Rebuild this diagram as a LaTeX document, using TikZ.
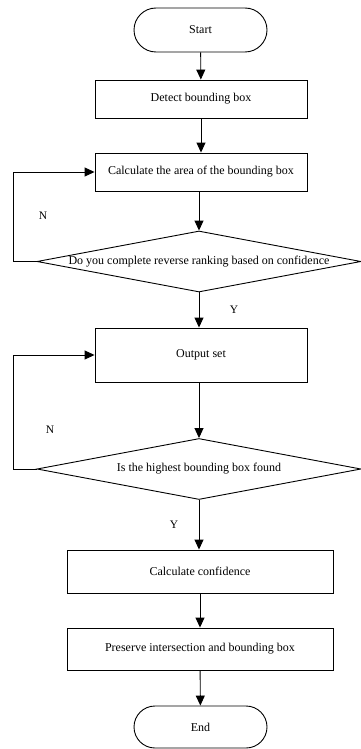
\documentclass[tikz,border=0pt]{standalone}
\usepackage{fontspec}
\setmainfont{Liberation Serif}
\usetikzlibrary{shapes.geometric,shapes.misc,arrows.meta}
\begin{document}
\begin{tikzpicture}[x=1pt,y=-1pt,
  every node/.style={font=\fontsize{12}{14}\selectfont},
  term/.style={draw,line width=0.9pt,rounded rectangle,minimum width=133pt,minimum height=44pt,inner sep=0pt},
  procbox/.style={draw,line width=0.9pt,rectangle,inner sep=0pt},
  decision/.style={draw,line width=0.9pt,diamond,aspect=5.3,minimum width=324pt,minimum height=61pt,inner sep=0pt},
  conn/.style={line width=0.9pt,-{Triangle[width=9pt,length=10pt]}},
  lbl/.style={font=\fontsize{11.5}{13}\selectfont}]
\useasboundingbox (0,0) rectangle (360,749);
\node[term] (start) at (200.5,30) {Start};
\node[procbox,minimum width=212pt,minimum height=38pt] (detect) at (201,99) {Detect bounding box};
\node[procbox,minimum width=212pt,minimum height=38pt] (area) at (201,172) {Calculate the area of the bounding box};
\node[decision] (d1) at (199,261.5) {Do you complete reverse ranking based on confidence};
\node[procbox,minimum width=212pt,minimum height=54pt] (out) at (201,355) {Output set};
\node[decision] (d2) at (199,469) {Is the highest bounding box found};
\node[procbox,minimum width=266pt,minimum height=43pt] (conf) at (200,571.5) {Calculate confidence};
\node[procbox,minimum width=266pt,minimum height=42pt] (pres) at (200,649) {Preserve intersection and bounding box};
\node[term,minimum height=42pt] (end) at (200.5,727) {End};
\draw[conn] (start) -- (detect);
\draw[conn] (detect) -- (area);
\draw[conn] (area.south -| d1.north) -- (d1.north);
\draw[conn] (d1.south) -- (d1.south |- out.north);
\draw[conn] (out.south -| d2.north) -- (d2.north);
\draw[conn] (d2.south) -- (d2.south |- conf.north);
\draw[conn] (conf) -- (pres);
\draw[conn] (pres) -- (end);
\coordinate (l1) at (13,261.5);
\coordinate (l2) at (13,469);
\draw[conn] (d1.west) -- (l1) |- (area.west);
\draw[conn] (d2.west) -- (l2) |- (out.west);
\node[lbl] (n1) at (43,216) {N};
\node[lbl] (y1) at (234,310) {Y};
\node[lbl] (n2) at (50,430) {N};
\node[lbl] (y2) at (174,525) {Y};
\end{tikzpicture}
\end{document}
